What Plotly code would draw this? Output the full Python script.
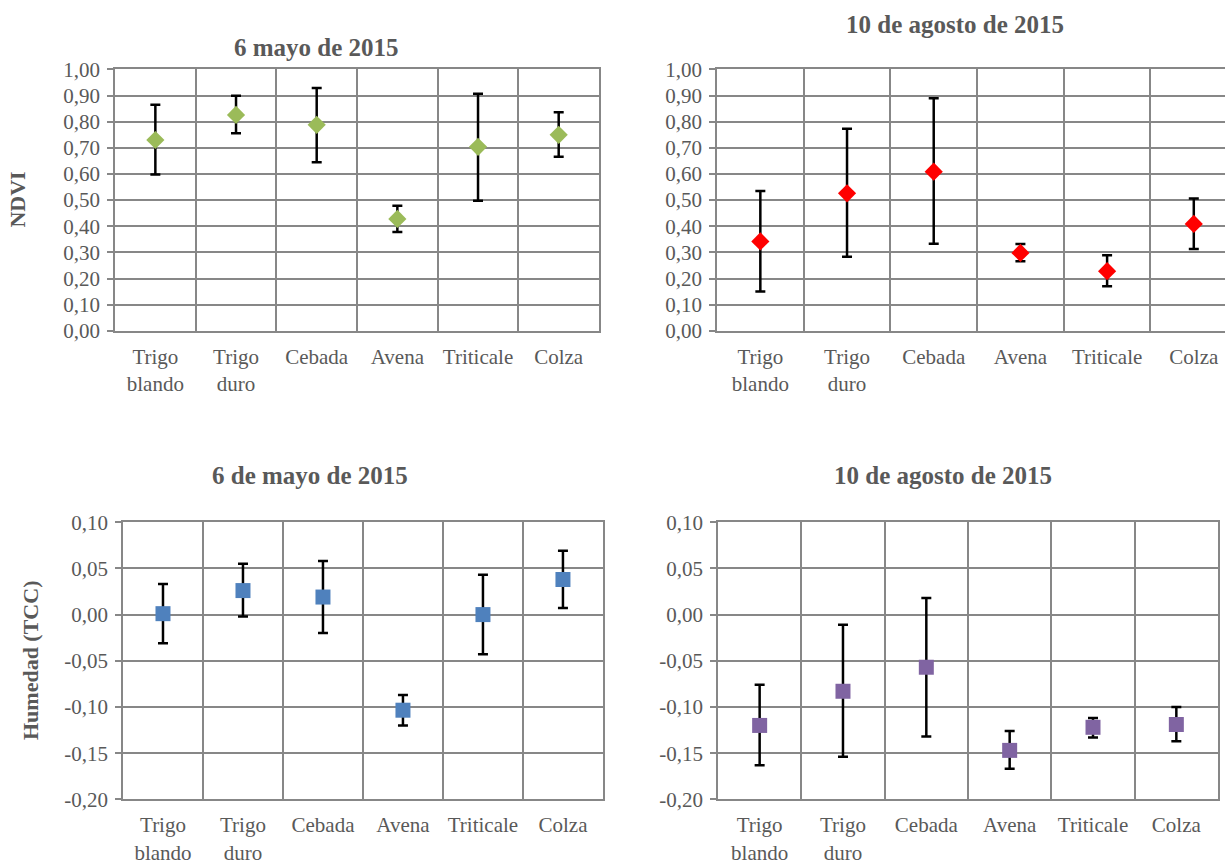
import plotly.graph_objects as go

# Cultivos
cultivos = ["Trigo<br>blando", "Trigo<br>duro", "Cebada", "Avena", "Triticale", "Colza"]

# NDVI, 6 de mayo de 2015: media, límite superior e inferior
ndvi_may = [0.730, 0.826, 0.788, 0.428, 0.704, 0.750]
ndvi_may_sup = [0.865, 0.899, 0.929, 0.478, 0.907, 0.836]
ndvi_may_inf = [0.598, 0.756, 0.645, 0.378, 0.498, 0.666]

# NDVI, 10 de agosto de 2015
ndvi_ago = [0.342, 0.526, 0.609, 0.298, 0.228, 0.409]
ndvi_ago_sup = [0.535, 0.773, 0.890, 0.332, 0.289, 0.506]
ndvi_ago_inf = [0.150, 0.283, 0.333, 0.266, 0.170, 0.313]

# Humedad (TCC), 6 de mayo de 2015
hum_may = [0.001, 0.026, 0.019, -0.1035, 0.000, 0.038]
hum_may_sup = [0.033, 0.055, 0.058, -0.087, 0.043, 0.069]
hum_may_inf = [-0.031, -0.002, -0.020, -0.120, -0.043, 0.007]

# Humedad (TCC), 10 de agosto de 2015
hum_ago = [-0.120, -0.083, -0.057, -0.147, -0.122, -0.119]
hum_ago_sup = [-0.076, -0.011, 0.018, -0.126, -0.112, -0.100]
hum_ago_inf = [-0.163, -0.154, -0.132, -0.167, -0.133, -0.137]

ndvi_ticks = [i / 10 for i in range(11)]
ndvi_ticktext = [f"{v:.2f}".replace(".", ",") for v in ndvi_ticks]
hum_ticks = [-0.20, -0.15, -0.10, -0.05, 0.00, 0.05, 0.10]
hum_ticktext = [f"{v:.2f}".replace(".", ",") for v in hum_ticks]

FONT = "Liberation Serif, Times New Roman, serif"
GRAY_TXT = "#595959"
GRID = "#878787"

x_pos = list(range(len(cultivos)))
bounds = [i - 0.5 for i in range(len(cultivos) + 1)]

fig = go.Figure()

series = [
    (ndvi_may, ndvi_may_sup, ndvi_may_inf, "diamond", "#9BBB59", 14, "x", "y"),
    (ndvi_ago, ndvi_ago_sup, ndvi_ago_inf, "diamond", "#FF0000", 14, "x2", "y2"),
    (hum_may, hum_may_sup, hum_may_inf, "square", "#4F81BD", 15, "x3", "y3"),
    (hum_ago, hum_ago_sup, hum_ago_inf, "square", "#8064A2", 15, "x4", "y4"),
]

for media, sup, inf, simbolo, color, tam, xa, ya in series:
    fig.add_trace(go.Scatter(
        x=x_pos, y=media, mode="markers",
        marker=dict(symbol=simbolo, color=color, size=tam, line=dict(width=0)),
        error_y=dict(
            type="data", symmetric=False,
            array=[s - m for s, m in zip(sup, media)],
            arrayminus=[m - i for m, i in zip(media, inf)],
            color="black", thickness=2.5, width=5,
        ),
        xaxis=xa, yaxis=ya, showlegend=False, cliponaxis=False,
    ))


def xaxis_cfg(domain, rng, anchor):
    return dict(
        domain=domain, range=rng, anchor=anchor,
        tickmode="array", tickvals=x_pos, ticktext=cultivos,
        showgrid=False, ticks="", ticklabelstandoff=6,
        tickfont=dict(family=FONT, size=21, color=GRAY_TXT),
        showline=True, linecolor=GRID, linewidth=1.5, mirror=True,
        minor=dict(tickmode="array", tickvals=bounds, showgrid=True,
                   gridcolor=GRID, gridwidth=1.5, ticks=""),
        zeroline=False, fixedrange=True,
    )


def yaxis_cfg(domain, rng, anchor, tv, tt, mirror=True):
    return dict(
        domain=domain, range=rng, anchor=anchor,
        tickmode="array", tickvals=tv, ticktext=tt,
        showgrid=True, gridcolor=GRID, gridwidth=1.5,
        ticks="outside", ticklen=6, tickcolor=GRID, tickwidth=1.5,
        ticklabelstandoff=3,
        tickfont=dict(family=FONT, size=21, color=GRAY_TXT),
        showline=True, linecolor=GRID, linewidth=1.5, mirror=mirror,
        zeroline=False, fixedrange=True,
    )


fila_sup = [0.6150, 0.9306]
fila_inf = [0.0491, 0.3838]

fig.update_layout(
    width=1225, height=865,
    margin=dict(l=0, r=0, t=0, b=0),
    paper_bgcolor="white", plot_bgcolor="white",
    xaxis=xaxis_cfg([0.0939, 0.4890], [-0.5, 5.5], "y"),
    yaxis=yaxis_cfg(fila_sup, [0, 1.0], "x", ndvi_ticks, ndvi_ticktext),
    xaxis2=xaxis_cfg([0.5853, 1.0], [-0.5, 5.36], "y2"),
    yaxis2=yaxis_cfg(fila_sup, [0, 1.0], "x2", ndvi_ticks, ndvi_ticktext, mirror=False),
    xaxis3=xaxis_cfg([0.1004, 0.4922], [-0.5, 5.5], "y3"),
    yaxis3=yaxis_cfg(fila_inf, [-0.20, 0.10], "x3", hum_ticks, hum_ticktext),
    xaxis4=xaxis_cfg([0.5861, 0.9943], [-0.5, 5.5], "y4"),
    yaxis4=yaxis_cfg(fila_inf, [-0.20, 0.10], "x4", hum_ticks, hum_ticktext),
)

titulos = [
    ("6 mayo de 2015", 316, 37),
    ("10 de agosto de 2015", 955, 13),
    ("6 de mayo de 2015", 310, 484),
    ("10 de agosto de 2015", 943, 484),
]
for texto, px, py in titulos:
    fig.add_annotation(
        text=f"<b>{texto}</b>", xref="paper", yref="paper",
        x=px / 1225, y=1 - py / 865, xanchor="center", yanchor="middle",
        showarrow=False, font=dict(family=FONT, size=25, color=GRAY_TXT),
    )

ejes_y = [("NDVI", 18, 196), ("Humedad (TCC)", 30, 677)]
for texto, px, py in ejes_y:
    fig.add_annotation(
        text=f"<b>{texto}</b>", xref="paper", yref="paper",
        x=px / 1225, y=1 - py / 865, xanchor="center", yanchor="middle",
        textangle=-90, showarrow=False,
        font=dict(family=FONT, size=22, color=GRAY_TXT),
    )

fig.write_html("out.html")
